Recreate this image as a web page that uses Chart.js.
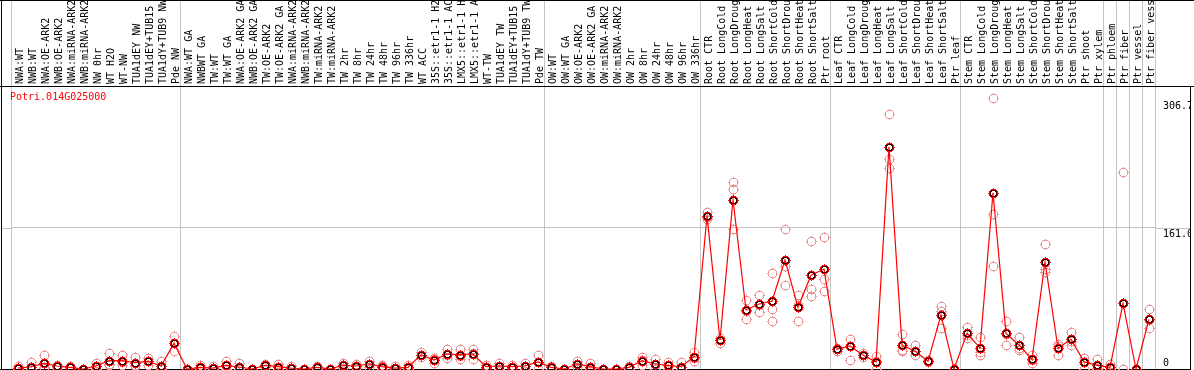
<!DOCTYPE html>
<html>
<head>
<meta charset="utf-8">
<script src="https://cdn.jsdelivr.net/npm/chart.js@4.4.1/dist/chart.umd.min.js"></script>
<style>
  html, body { margin: 0; padding: 0; background: #fff; }
</style>
</head>
<body>
<canvas id="exprChart" width="1194" height="370"></canvas>
<script>
const geneId = 'Potri.014G025000';

const samples = [
  'NWA:WT', 'NWB:WT', 'NWA:OE-ARK2', 'NWB:OE-ARK2', 'NWA:miRNA-ARK2', 'NWB:miRNA-ARK2',
  'NW 0hr', 'WT H2O', 'WT-NW', 'TUA1dEY NW', 'TUA1dEY+TUB15', 'TUA1dY+TUB9 NW', 'Pde NW',
  'NWA:WT GA', 'NWBWT GA', 'TW:WT', 'TW:WT GA', 'NWA:OE-ARK2 GA', 'NWB:OE-ARK2 GA',
  'TW:OE-ARK2', 'TW:OE-ARK2 GA', 'NWA:miRNA-ARK2', 'NWB:miRNA-ARK2', 'TW:miRNA-ARK2',
  'TW:miRNA-ARK2', 'TW 2hr', 'TW 8hr', 'TW 24hr', 'TW 48hr', 'TW 96hr', 'TW 336hr',
  'WT ACC', '35S::etr1-1 H2O', '35S::etr1-1 ACC', 'LMX5::etr1-1 H2O', 'LMX5::etr1-1 ACC',
  'WT-TW', 'TUA1dEY TW', 'TUA1dEY+TUB15', 'TUA1dY+TUB9 TW', 'Pde TW',
  'OW:WT', 'OW:WT GA', 'OW:OE-ARK2', 'OW:OE-ARK2 GA', 'OW:miRNA-ARK2', 'OW:miRNA-ARK2',
  'OW 2hr', 'OW 8hr', 'OW 24hr', 'OW 48hr', 'OW 96hr', 'OW 336hr',
  'Root CTR', 'Root LongCold', 'Root LongDrought', 'Root LongHeat', 'Root LongSalt',
  'Root ShortCold', 'Root ShortDrought', 'Root ShortHeat', 'Root ShortSalt', 'Ptr root',
  'Leaf CTR', 'Leaf LongCold', 'Leaf LongDrought', 'Leaf LongHeat', 'Leaf LongSalt',
  'Leaf ShortCold', 'Leaf ShortDrought', 'Leaf ShortHeat', 'Leaf ShortSalt', 'Ptr leaf',
  'Stem CTR', 'Stem LongCold', 'Stem LongDrought', 'Stem LongHeat', 'Stem LongSalt',
  'Stem ShortCold', 'Stem ShortDrought', 'Stem ShortHeat', 'Stem ShortSalt', 'Ptr shoot',
  'Ptr xylem', 'Ptr phloem', 'Ptr fiber', 'Ptr vessel', 'Ptr fiber vessel'
];

// index of the first sample of each block (a grey separator is drawn before it)
const groupStarts = [0, 13, 41, 53, 63, 73, 84, 85, 86, 87];

const means = [
  1, 2.6, 6.5, 3.4, 1.9, 0, 3.4, 9.5, 9.5, 7.2, 8.8, 3.4, 29.3,
  0, 1.9, 1.1, 4.2, 2.3, 0, 4.2, 2.7, 1.1, 0, 1.9, 0, 4.2, 3.4, 5.7, 2.7, 1.1, 1.9,
  16.3, 10.3, 17.1, 16.3, 17.1, 2.7, 3.4, 2.7, 3.4, 8,
  1.9, 0, 5.7, 2.7, 0, 0, 1.9, 9.5, 5.7, 4.2, 2.6, 14,
  174.7, 33.1, 193.3, 67.4, 74.2, 77.3, 124.5, 70.4, 107, 114.1,
  22.5, 26.3, 16, 8, 253.6, 27.4, 20.2, 8.8, 61.7, 0,
  40.7, 24.2, 201.1, 40.7, 27.4, 11, 122.5, 23.6, 33.9, 8.4, 4.2,
  1.9, 74.9, 0, 56.7
];

const rep1 = [
  3, 7.6, 16, 5, 3, 0, 7.2, 18, 16, 14, 12.2, 9, 37.7,
  0, 5, 3.3, 9.5, 6.5, 0, 5.7, 5.7, 3.3, 0, 3.5, 0, 6.5, 5.7, 8.8, 5, 3.3, 5,
  19, 13, 22.5, 22.5, 22.5, 4, 6.5, 4, 7.2, 16.3,
  3.5, 0, 9.5, 6.5, 0, 0, 3.5, 14, 11.8, 8, 7.8, 19.4,
  179, 35, 214, 78.8, 84.1, 109.3, 159.5, 84.1, 146.5, 150.4,
  24, 33.9, 18, 14.8, 291.2, 40, 27.7, 10, 71.9, 0,
  48.3, 36.9, 309.1, 54.5, 36.9, 16, 142.4, 28.5, 41.9, 12.9, 11,
  5.7, 224.6, 0, 68.2
];

const rep2 = [
  0, 0.2, 2.5, 3, 1.8, 0, 3, 5.5, 7.5, 4.6, 9.2, 1.2, 29.3,
  0, 0.7, 0, 3.1, 0.4, 0, 4.2, 2.4, 0, 0, 2.2, 0, 4.4, 3.5, 5.5, 3.1, 0, 0.7,
  16, 11.4, 16, 15.4, 17.8, 2.5, 3.7, 2.5, 3, 7.7,
  2.2, 0, 5.6, 1.6, 0, 0, 2.2, 10.5, 5.3, 4.6, 0, 13,
  174, 35, 206, 66.7, 73.4, 68.2, 118, 72.6, 91, 103.1,
  22.5, 34.7, 16, 9, 240.1, 22, 16.5, 8.8, 66.7, 0,
  38.8, 19.8, 176.6, 40.2, 23.6, 9.8, 114, 26.7, 32.4, 12.3, 1.6,
  0, 0, 0, 55.4
];

const rep3 = [
  0, 0, 1, 2.2, 0.9, 0, 0, 5, 5, 3, 5, 0, 20.9,
  0, 0, 0, 0, 0, 0, 2.7, 0, 0, 0, 0, 0, 1.7, 1, 2.8, 0, 0, 0,
  13.9, 6.5, 12.8, 11, 11, 1.6, 0, 1.6, 0, 0,
  0, 0, 2, 0, 0, 0, 0, 4, 0, 0, 0, 9.6,
  171, 29.3, 160, 56.7, 65.1, 54.5, 96, 54.5, 83.4, 88.7,
  21, 10.3, 14, 0.2, 229.5, 20.2, 16.4, 7.6, 46.5, 0,
  35, 16, 117.6, 27.4, 21.7, 7.2, 111, 15.6, 27.4, 0, 0,
  0, 0, 0, 46.5
];

const yTicks = [0, 161.0, 306.7];
const yMax = 323;

const monoFont = { family: "'DejaVu Sans Mono', monospace", size: 10 };
const sepColor = '#c4c4c4';

// pixel ring markers (outer ring, optional inner ring, four tick pixels)
function ringMarker(outer, inner) {
  const c = document.createElement('canvas');
  c.width = 14; c.height = 14;
  const g = c.getContext('2d');
  for (let dy = -6; dy <= 6; dy++) {
    for (let dx = -6; dx <= 6; dx++) {
      const d = Math.hypot(dx, dy);
      let col = null;
      if (d >= 3.7 && d < 4.7) col = outer;
      else if (inner && d >= 2.7 && d < 3.7) col = inner;
      if (col) { g.fillStyle = col; g.fillRect(7 + dx, 7 + dy, 1, 1); }
    }
  }
  g.fillStyle = outer;
  g.fillRect(7, 2, 1, 1); g.fillRect(7, 12, 1, 1);
  g.fillRect(2, 7, 1, 1); g.fillRect(12, 7, 1, 1);
  return c;
}
const meanMarker = ringMarker('#ff0000', '#400000');
const repMarker = ringMarker('#ef9494', null);

function repSet(name, values) {
  return {
    label: name, data: values, showLine: false,
    pointStyle: repMarker, pointRadius: 5, order: 1, clip: false
  };
}

const framePlugin = {
  id: 'frame',
  beforeDatasetsDraw(chart) {
    const ctx = chart.ctx;
    const area = chart.chartArea;
    const y = chart.scales.y;
    ctx.save();
    // grid line at 161.0 runs across the whole frame
    const gy = Math.round(y.getPixelForValue(161.0)) + 0.5;
    ctx.strokeStyle = sepColor;
    ctx.lineWidth = 1;
    ctx.beginPath();
    ctx.moveTo(1, gy); ctx.lineTo(area.left, gy);
    ctx.moveTo(area.right, gy); ctx.lineTo(1190, gy);
    ctx.stroke();
    ctx.strokeStyle = '#000';
    ctx.beginPath();
    ctx.moveTo(0, 0.5); ctx.lineTo(1194, 0.5);
    ctx.moveTo(0, 86.5); ctx.lineTo(1194, 86.5);
    ctx.moveTo(1.5, 0); ctx.lineTo(1.5, 369.5);
    ctx.moveTo(1190.5, 86); ctx.lineTo(1190.5, 369.5);
    ctx.moveTo(0, 369.5); ctx.lineTo(1191, 369.5);
    ctx.stroke();
    ctx.font = "10px 'DejaVu Sans Mono', monospace";
    ctx.fillStyle = '#ff0000';
    ctx.textBaseline = 'alphabetic';
    ctx.fillText(geneId, 10, 100);
    ctx.restore();
    ctx.imageSmoothingEnabled = false;
  }
};

new Chart(document.getElementById('exprChart'), {
  type: 'line',
  data: {
    labels: samples,
    datasets: [
      {
        label: geneId, data: means, borderColor: '#ff0000', borderWidth: 1.2,
        pointStyle: meanMarker, pointRadius: 5, tension: 0, order: 0, clip: false
      },
      repSet('rep 1', rep1),
      repSet('rep 2', rep2),
      repSet('rep 3', rep3)
    ]
  },
  options: {
    responsive: false,
    animation: false,
    events: [],
    layout: { autoPadding: false, padding: { left: 11.5, right: 4, top: 0, bottom: 1 } },
    plugins: { legend: { display: false }, tooltip: { enabled: false }, title: { display: false } },
    scales: {
      x: {
        type: 'category',
        position: 'top',
        offset: true,
        border: { display: false },
        grid: {
          offset: true,
          tickLength: 86,
          lineWidth: 1,
          color: (c) => (c.type !== 'tick' || groupStarts.includes(c.index)) ? sepColor : 'rgba(0,0,0,0)'
        },
        ticks: {
          autoSkip: false,
          minRotation: 90,
          maxRotation: 90,
          padding: -84,
          labelOffset: 14,
          font: monoFont,
          color: '#000'
        },
        afterFit: (s) => { s.height = 86; s.paddingLeft = 0; s.paddingRight = 0; }
      },
      y: {
        position: 'right',
        min: 0,
        max: yMax,
        border: { display: false },
        grid: {
          drawTicks: false,
          color: (c) => (c.tick && c.tick.value === 161.0) ? sepColor : 'rgba(0,0,0,0)'
        },
        afterBuildTicks: (s) => { s.ticks = yTicks.map(v => ({ value: v })); },
        afterFit: (s) => { s.width = 34.5; s.paddingTop = 0; s.paddingBottom = 0; },
        ticks: {
          padding: 7.5,
          font: monoFont,
          color: '#000',
          callback: (v) => v === 0 ? ['0', ''] : ['', v.toFixed(1)]
        }
      }
    }
  },
  plugins: [framePlugin]
});
</script>
</body>
</html>
